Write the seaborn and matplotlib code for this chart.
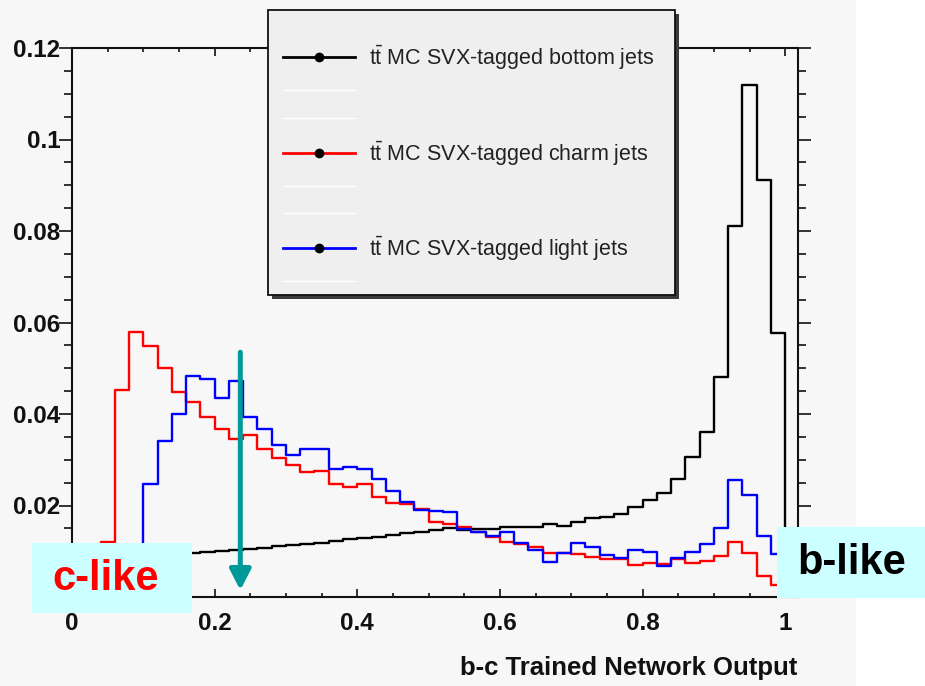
import numpy as np
import pandas as pd
import matplotlib
matplotlib.use("Agg")
import matplotlib.pyplot as plt
import seaborn as sns
from matplotlib import font_manager as fm
from matplotlib.patches import Rectangle
from matplotlib.lines import Line2D

# ---------------- data (bin width 0.02, bins 0.00 ... 1.00; last bin empty) ----------------
bin_left = [round(0.02 * i, 2) for i in range(51)]

bottom_jets = [0.0060, 0.0068, 0.0074, 0.0079, 0.0083, 0.0087, 0.0090, 0.0093, 0.0096, 0.0098,
               0.0100, 0.0103, 0.0106, 0.0108, 0.0111, 0.0113, 0.0116, 0.0119, 0.0122, 0.0126,
               0.0129, 0.0132, 0.0136, 0.0139, 0.0141, 0.0146, 0.0150, 0.0146, 0.0148, 0.0148,
               0.0154, 0.0154, 0.0154, 0.0160, 0.0156, 0.0165, 0.0172, 0.0174, 0.0181, 0.0197,
               0.0211, 0.0228, 0.0258, 0.0305, 0.0360, 0.0480, 0.0810, 0.1120, 0.0911, 0.0577,
               0.0]

charm_jets = [0.0010, 0.0040, 0.0120, 0.0452, 0.0579, 0.0549, 0.0500, 0.0447, 0.0427, 0.0394,
              0.0367, 0.0345, 0.0354, 0.0323, 0.0303, 0.0289, 0.0274, 0.0276, 0.0248, 0.0240,
              0.0248, 0.0219, 0.0206, 0.0203, 0.0192, 0.0165, 0.0160, 0.0154, 0.0143, 0.0132,
              0.0121, 0.0116, 0.0110, 0.0097, 0.0097, 0.0094, 0.0087, 0.0082, 0.0082, 0.0070,
              0.0074, 0.0072, 0.0082, 0.0074, 0.0079, 0.0090, 0.0121, 0.0097, 0.0046, 0.0026,
              0.0]

light_jets = [0.0005, 0.0015, 0.0030, 0.0050, 0.0080, 0.0247, 0.0340, 0.0400, 0.0484, 0.0476,
              0.0434, 0.0472, 0.0394, 0.0367, 0.0332, 0.0310, 0.0323, 0.0323, 0.0280, 0.0285,
              0.0280, 0.0259, 0.0232, 0.0208, 0.0190, 0.0187, 0.0185, 0.0148, 0.0141, 0.0133,
              0.0141, 0.0117, 0.0103, 0.0077, 0.0096, 0.0117, 0.0110, 0.0092, 0.0086, 0.0103,
              0.0099, 0.0068, 0.0085, 0.0099, 0.0116, 0.0150, 0.0256, 0.0223, 0.0133, 0.0094,
              0.0]

series_labels = ["MC SVX-tagged bottom jets", "MC SVX-tagged charm jets", "MC SVX-tagged light jets"]
series_colors = ["#000000", "#FF0000", "#0000FF"]

x_ticks = [0, 0.2, 0.4, 0.6, 0.8, 1]
x_ticklabels = ["0", "0.2", "0.4", "0.6", "0.8", "1"]
y_ticks = [0, 0.02, 0.04, 0.06, 0.08, 0.1, 0.12]
y_ticklabels = ["", "0.02", "0.04", "0.06", "0.08", "0.1", "0.12"]  # "0" is hidden by the c-like box
x_title = "b-c Trained Network Output"

# ---------------- fonts ----------------
names = {f.name for f in fm.fontManager.ttflist}
if "Liberation Sans Narrow" in names:
    fam = "Liberation Sans Narrow"
    fs_tick, fs_leg, fs_xl = 21, 18.5, 22
else:
    fam = "Liberation Sans"
    fs_tick, fs_leg, fs_xl = 17.5, 15.5, 18.5
plt.rcParams["font.family"] = [fam, "DejaVu Sans"]
plt.rcParams["mathtext.fontset"] = "custom"
plt.rcParams["mathtext.rm"] = fam
plt.rcParams["mathtext.it"] = fam + ":italic"

BG = "#F7F7F7"
W, H = 925, 686

def fx(X):
    return X / W

def fy(Y):
    return 1 - Y / H

fig = plt.figure(figsize=(9.25, 6.86), dpi=100, facecolor=BG)
# white strip at the right edge
fig.add_artist(Rectangle((fx(856), 0), 1 - fx(856), 1, transform=fig.transFigure,
                         facecolor="white", edgecolor="none", zorder=-1))

ax = fig.add_axes([fx(72), fy(597), fx(798) - fx(72), fy(48) - fy(597)])
ax.set_facecolor(BG)

edges = [round(0.02 * i, 2) for i in range(52)]
centers = [b + 0.01 for b in bin_left]
df = pd.DataFrame({
    "x": centers * 3,
    "w": bottom_jets + charm_jets + light_jets,
    "s": sum([[lab] * len(bin_left) for lab in series_labels], []),
})
for lab, col in zip(series_labels, series_colors):
    sub = df[df["s"] == lab]
    sns.histplot(data=sub, x="x", weights="w", bins=edges, element="step", fill=False,
                 color=col, linewidth=1.7, ax=ax, zorder=3)

ax.set_xlim(0, 1.018)
ax.set_ylim(0, 0.12)
ax.set_xticks(x_ticks)
ax.set_xticklabels(x_ticklabels)
ax.set_yticks(y_ticks)
ax.set_yticklabels(y_ticklabels)
ax.set_xticks(np.arange(0, 1.001, 0.05), minor=True)
ax.set_yticks(np.arange(0, 0.1201, 0.005), minor=True)
ax.set_ylabel("")
ax.set_xlabel(x_title, fontsize=fs_xl, fontweight="bold", loc="right", color="#111111")
ax.xaxis.set_label_coords((797 - 72) / 726, -(668 - 597) / 549)
ax.xaxis.label.set_va("center")

for s in ax.spines.values():
    s.set_linewidth(1.5)
    s.set_color("#111111")

ax.tick_params(axis="x", which="both", direction="in", top=True, bottom=True,
               labelsize=fs_tick, pad=11, width=1.2, color="#111111")
ax.tick_params(axis="x", which="major", length=6)
ax.tick_params(axis="x", which="minor", length=3)
ax.tick_params(axis="y", which="both", direction="out", left=True, right=True,
               labelsize=fs_tick, pad=-1, width=1.2, color="#111111")
ax.tick_params(axis="y", which="major", length=9.5)
ax.tick_params(axis="y", which="minor", length=6)
for t in ax.get_xticklabels() + ax.get_yticklabels():
    t.set_fontweight("bold")
    t.set_color("#111111")

# teal arrow
ax.annotate("", xy=(0.236, 0.0015), xytext=(0.236, 0.0535),
            arrowprops=dict(arrowstyle="-|>,head_length=0.62,head_width=0.32", lw=3.6,
                            color="#009999", mutation_scale=20, shrinkA=0, shrinkB=0),
            zorder=6)

# legend (ROOT style box with shadow)
fig.add_artist(Rectangle((fx(272), fy(299)), fx(679) - fx(272), fy(14) - fy(299),
                         transform=fig.transFigure, facecolor="#3A3A3A", edgecolor="none", zorder=7))
fig.add_artist(Rectangle((fx(268), fy(295)), fx(675) - fx(268), fy(10) - fy(295),
                         transform=fig.transFigure, facecolor="#EFEFEF", edgecolor="#111111",
                         linewidth=1.3, zorder=8))
for Y in [90, 118, 186, 213, 281]:
    fig.add_artist(Line2D([fx(283), fx(355)], [fy(Y), fy(Y)], transform=fig.transFigure,
                          color="white", lw=1, zorder=9))
for Y, lab, col in zip([57, 153, 248], series_labels, series_colors):
    fig.add_artist(Line2D([fx(283), fx(355)], [fy(Y), fy(Y)], transform=fig.transFigure,
                          color=col, lw=2, zorder=9))
    fig.add_artist(Line2D([fx(319)], [fy(Y)], transform=fig.transFigure, marker="o",
                          markersize=6, color="black", zorder=10))
    fig.text(fx(369), fy(Y + 1), r"$\mathrm{t\bar{t}}$ " + lab, fontsize=fs_leg,
             color="#222222", ha="left", va="center", zorder=10)

# c-like / b-like boxes
fig.add_artist(Rectangle((fx(32), fy(613)), fx(192) - fx(32), fy(543) - fy(613),
                         transform=fig.transFigure, facecolor="#CCFFFF", edgecolor="none", zorder=11))
fig.text(fx(106), fy(579), "c-like", fontsize=30, fontweight="bold", color="#FF0000",
         family=["Liberation Sans", "DejaVu Sans"], ha="center", va="center", zorder=12)
fig.add_artist(Rectangle((fx(777), fy(598)), fx(925) - fx(777), fy(527) - fy(598),
                         transform=fig.transFigure, facecolor="#CCFFFF", edgecolor="none", zorder=11))
fig.text(fx(852), fy(563), "b-like", fontsize=30, fontweight="bold", color="#000000",
         family=["Liberation Sans", "DejaVu Sans"], ha="center", va="center", zorder=12)

fig.savefig("out.png", dpi=100, facecolor=BG)
